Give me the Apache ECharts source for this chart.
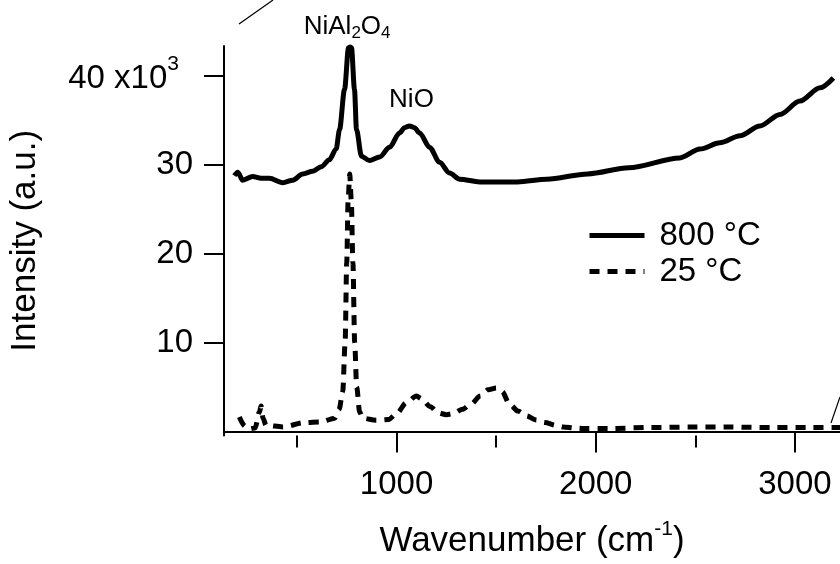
<!DOCTYPE html>
<html>
<head>
<meta charset="utf-8">
<script src="https://cdn.jsdelivr.net/npm/echarts@6/dist/echarts.min.js"></script>
<style>
  html, body { margin: 0; padding: 0; background: #fff; }
  #chart { width: 840px; height: 564px; }
</style>
</head>
<body>
<div id="chart"></div>
<script>
// 800 °C spectrum (solid line)
const wn800 = [186, 203, 228, 278, 320, 362, 429, 479, 529, 579, 622, 663, 697, 714, 739, 759, 767, 774, 789, 799, 824, 864, 915, 965, 1015, 1040, 1065, 1090, 1116, 1166, 1216, 1266, 1317, 1417, 1608, 1754, 1960, 2166, 2422, 2523, 2623, 2724, 2824, 2925, 3025, 3126, 3193]
const int800 = [28800, 29200, 28300, 28700, 28500, 28500, 28000, 28300, 29000, 29300, 29800, 30600, 31800, 34000, 38500, 43200, 43300, 43200, 38500, 34000, 31000, 30500, 30900, 32000, 33600, 34200, 34400, 34200, 33600, 32000, 30300, 29100, 28400, 28100, 28100, 28400, 29000, 29700, 30800, 31800, 32500, 33300, 34400, 35700, 37200, 38700, 39800]

// 25 °C spectrum (dashed line)
const wn25 = [211, 240, 262, 290, 312, 320, 330, 345, 429, 538, 622, 690, 712, 730, 742, 750, 757, 765, 773, 781, 790, 800, 815, 830, 898, 960, 1000, 1049, 1100, 1124, 1170, 1208, 1250, 1283, 1330, 1375, 1420, 1460, 1501, 1530, 1568, 1610, 1652, 1700, 1744, 1800, 1836, 1900, 1936, 2063, 2270, 2475, 2681, 2886, 3080, 3226]
const int25 = [1640, 600, 300, 400, 2200, 2870, 1500, 700, 520, 1000, 1080, 1500, 2500, 4500, 10000, 19000, 26000, 29000, 26000, 19000, 10000, 5000, 2200, 1500, 1260, 1350, 2000, 3240, 4000, 3700, 2800, 2100, 1900, 2000, 2500, 3100, 4000, 4700, 4900, 4500, 3050, 2300, 1760, 1300, 1000, 700, 520, 380, 340, 330, 450, 500, 500, 450, 450, 450]

const seriesNames = ['800 °C', '25 °C']

// axes
const xRange = [134, 3226]
const yRange = [-450, 43400]
const xMajorTicks = [1000, 2000, 3000]
const xMinorTicks = [500, 1500, 2500]
const yTicks = [10000, 20000, 30000, 40000]

// peak annotations
const peakLabels = ['{n|NiAl}{s|2}{n|O}{s|4}', '{n|NiO}']
const peakX = [767, 1065]
const peakY = [43300, 34400]

const FONT = 'Liberation Sans, Arial, Helvetica, sans-serif'

const chart = echarts.init(document.getElementById('chart'), null, { renderer: 'canvas' })

const zip = (xs, ys) => xs.map((x, i) => [x, ys[i]])

const option = {
  backgroundColor: '#fff',
  animation: false,
  textStyle: { fontFamily: FONT, color: '#000' },
  grid: {
    left: 224,
    right: 0,
    top: 46,
    bottom: 126,
    containLabel: false
  },
  legend: {
    orient: 'vertical',
    left: 582,
    top: 214,
    itemWidth: 55,
    itemHeight: 14,
    itemGap: 3,
    textStyle: {
      fontFamily: FONT,
      fontSize: 33,
      lineHeight: 33,
      color: '#000',
      padding: [0, 0, 0, 10]
    },
    data: [
      {
        name: seriesNames[0],
        lineStyle: { width: 5, type: 'solid', color: '#000' },
        itemStyle: { color: 'rgba(0,0,0,0)', borderWidth: 0 }
      },
      {
        name: seriesNames[1],
        lineStyle: { width: 5, type: [10, 8], color: '#000' },
        itemStyle: { color: 'rgba(0,0,0,0)', borderWidth: 0 }
      }
    ]
  },
  xAxis: [
    {
      type: 'value',
      min: xRange[0],
      max: xRange[1],
      position: 'bottom',
      splitLine: { show: false },
      axisLine: { show: true, lineStyle: { color: '#000', width: 2 } },
      axisTick: {
        show: true,
        length: 21,
        customValues: xMajorTicks,
        lineStyle: { color: '#000', width: 2 }
      },
      axisLabel: {
        customValues: xMajorTicks,
        formatter: v => String(v),
        margin: 33,
        fontSize: 33,
        fontFamily: FONT,
        color: '#000'
      },
      name: '{a|Wavenumber (cm}{s|-1}{a|)}',
      nameLocation: 'middle',
      nameGap: 83,
      nameTextStyle: {
        rich: {
          a: { fontSize: 35, fontFamily: FONT, color: '#000', lineHeight: 46 },
          s: { fontSize: 21, fontFamily: FONT, color: '#000', verticalAlign: 'top', lineHeight: 21 }
        }
      }
    },
    {
      type: 'value',
      min: xRange[0],
      max: xRange[1],
      position: 'bottom',
      splitLine: { show: false },
      axisLine: { show: false },
      axisTick: {
        show: true,
        length: 12,
        customValues: xMinorTicks,
        lineStyle: { color: '#000', width: 2 }
      },
      axisLabel: { show: false }
    }
  ],
  yAxis: {
    type: 'value',
    min: yRange[0],
    max: yRange[1],
    splitLine: { show: false },
    axisLine: { show: true, lineStyle: { color: '#000', width: 2 } },
    axisTick: {
      show: true,
      length: 20,
      customValues: yTicks,
      lineStyle: { color: '#000', width: 2 }
    },
    axisLabel: {
      customValues: yTicks,
      margin: 31,
      fontFamily: FONT,
      formatter: v => v === 40000 ? '{b|40 x10}{s|3}' : '{a|' + (v / 1000) + '}',
      rich: {
        a: { fontSize: 33, fontFamily: FONT, color: '#000', lineHeight: 44 },
        b: { fontSize: 33, fontFamily: FONT, color: '#000', lineHeight: 44, padding: [6, 0, 0, 0] },
        s: { fontSize: 21, fontFamily: FONT, color: '#000', verticalAlign: 'top', lineHeight: 21, padding: [0, 14, 0, 0] }
      }
    },
    name: 'Intensity (a.u.)',
    nameLocation: 'middle',
    nameGap: 181,
    nameTextStyle: { fontSize: 35, fontFamily: FONT, color: '#000' }
  },
  graphic: [
    { type: 'line', shape: { x1: 239, y1: 24, x2: 273, y2: 0 }, style: { stroke: '#000', lineWidth: 1.2 } },
    { type: 'line', shape: { x1: 831, y1: 423, x2: 840, y2: 397 }, style: { stroke: '#000', lineWidth: 1.2 } }
  ],
  series: [
    {
      name: seriesNames[1],
      type: 'line',
      data: zip(wn25, int25),
      showSymbol: false,
      symbol: 'none',
      smooth: 0.3,
      smoothMonotone: 'x',
      itemStyle: { color: '#000' },
      lineStyle: { color: '#000', width: 5, type: [10, 8], cap: 'butt' },
      z: 2
    },
    {
      name: seriesNames[0],
      type: 'line',
      data: zip(wn800, int800),
      showSymbol: false,
      symbol: 'none',
      smooth: 0.3,
      smoothMonotone: 'x',
      itemStyle: { color: '#000' },
      lineStyle: { color: '#000', width: 5, type: 'solid' },
      z: 3,
      markPoint: {
        symbol: 'circle',
        symbolSize: 0,
        silent: true,
        label: {
          show: true,
          position: 'top',
          formatter: p => p.name,
          rich: {
            n: { fontSize: 26, fontFamily: FONT, color: '#000', lineHeight: 30 },
            s: { fontSize: 17, fontFamily: FONT, color: '#000', verticalAlign: 'bottom', lineHeight: 17 }
          }
        },
        data: [
          { name: peakLabels[0], coord: [peakX[0], peakY[0]], label: { offset: [-3, 0] } },
          { name: peakLabels[1], coord: [peakX[1], peakY[1]], label: { offset: [2, -6] } }
        ]
      }
    }
  ]
}

chart.setOption(option)
</script>
</body>
</html>
